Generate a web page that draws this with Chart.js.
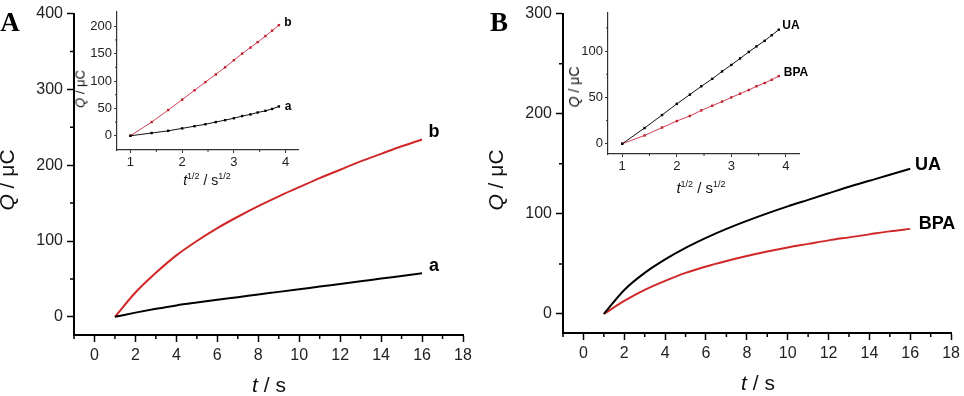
<!DOCTYPE html>
<html>
<head>
<meta charset="utf-8">
<script src="https://cdn.jsdelivr.net/npm/chart.js@4.4.1/dist/chart.umd.min.js"></script>
<style>
  body { margin: 0; background: #fff; width: 964px; height: 396px; position: relative; overflow: hidden;
         font-family: 'Liberation Sans', Arial, sans-serif; }
  canvas { position: absolute; }
  .lbl { position: absolute; white-space: nowrap; color: #000; line-height: 1; transform: translate(-50%, -50%); }
  .rot { transform: translate(-50%, -50%) rotate(-90deg); }
  .panel { font-family: 'Liberation Serif', 'Times New Roman', serif; font-weight: bold; font-size: 27px; }
  .main-title { font-size: 21px; color: #111; }
  .ins-title { font-size: 14px; color: #111; }
  .ins-title sup { font-size: 9px; vertical-align: 6px; }
  .curve { font-weight: bold; font-size: 18px; }
  .curve-s { font-weight: bold; font-size: 12px; }
</style>
</head>
<body>
<canvas id="mainA" width="480" height="396" style="left:0;top:0"></canvas>
<canvas id="mainB" width="484" height="396" style="left:480px;top:0"></canvas>
<canvas id="insetA" width="230" height="200" style="left:80px;top:0"></canvas>
<canvas id="insetB" width="240" height="200" style="left:570px;top:0"></canvas>

<!-- panel letters -->
<div class="lbl panel" style="left:10px;top:22px">A</div>
<div class="lbl panel" style="left:499px;top:22px">B</div>

<!-- main axis titles -->
<div class="lbl main-title rot" style="left:6px;top:180px"><i>Q</i> / μC</div>
<div class="lbl main-title" style="left:269px;top:384px"><i>t</i> / s</div>
<div class="lbl main-title rot" style="left:495px;top:180px"><i>Q</i> / μC</div>
<div class="lbl main-title" style="left:758px;top:382px"><i>t</i> / s</div>

<!-- inset axis titles -->
<div class="lbl ins-title rot" style="left:80px;top:89px;font-size:13px"><i>Q</i> / μC</div>
<div class="lbl ins-title" style="left:207px;top:179px"><i>t</i><sup>1/2</sup> / s<sup>1/2</sup></div>
<div class="lbl ins-title rot" style="left:574px;top:87px"><i>Q</i> / μC</div>
<div class="lbl ins-title" style="left:701px;top:187px;font-size:15px"><i>t</i><sup>1/2</sup> / s<sup>1/2</sup></div>

<!-- curve labels -->
<div class="lbl curve" style="left:434px;top:131px">b</div>
<div class="lbl curve" style="left:434px;top:265px">a</div>
<div class="lbl curve" style="left:928px;top:164px">UA</div>
<div class="lbl curve" style="left:937px;top:223px">BPA</div>
<div class="lbl curve-s" style="left:288px;top:22px">b</div>
<div class="lbl curve-s" style="left:288px;top:106px">a</div>
<div class="lbl curve-s" style="left:791px;top:25px">UA</div>
<div class="lbl curve-s" style="left:796px;top:72px">BPA</div>

<script>
// main panels: Q vs t
const mainT = [1, 2, 3, 4, 5, 6, 7, 8, 9, 10, 11, 12, 13, 14, 15, 16];
const qA_a = [0, 5.5, 10.5, 15, 18.8, 22.4, 25.9, 29.4, 32.9, 36.4, 39.9, 43.4, 46.9, 50.4, 53.9, 57.4];
const qA_b = [0, 32, 58, 81, 100, 117, 132, 146, 159, 171, 183, 194, 205, 215, 225, 234];
const qB_UA = [0, 24, 41, 54.5, 66, 76, 85, 93, 100.5, 107.5, 114, 120.5, 127, 133, 139, 145];
const qB_BPA = [0, 13, 24, 33, 41, 47.5, 53, 58, 62.5, 66.5, 70, 73.5, 76.5, 79.5, 82.5, 85];

// insets: Q vs t^1/2
const sqrtT = [1, 1.41, 1.73, 2, 2.24, 2.45, 2.65, 2.83, 3, 3.16, 3.32, 3.46, 3.61, 3.74, 3.87];
const insA_a = [0, 5, 9, 13.5, 17.5, 21, 25, 28.5, 32, 36, 39, 42.5, 45.5, 49, 53.5];
const insA_b = [0, 25, 47, 66, 83, 98, 112, 125, 138, 150, 161, 171, 182, 192, 202];
const insB_UA = [0, 17, 31, 43, 53, 62, 70, 78, 85, 92, 99, 105, 111, 117, 123];
const insB_BPA = [0, 9, 17.5, 24.5, 30, 36, 41, 45.5, 50, 54, 58, 62, 65.5, 69, 73];

// tick labels
const mainXTicks = [0, 2, 4, 6, 8, 10, 12, 14, 16, 18];
const mainXMinor = [-1, 1, 3, 5, 7, 9, 11, 13, 15, 17];
const mainAYTicks = [0, 100, 200, 300, 400];
const mainAYMinor = [50, 150, 250, 350];
const mainBYTicks = [0, 100, 200, 300];
const mainBYMinor = [50, 150, 250];
const insXTicks = [1, 2, 3, 4];
const insXMinor = [1.5, 2.5, 3.5];
const insAYTicks = [0, 50, 100, 150, 200];
const insAYMinor = [25, 75, 125, 175];
const insBYTicks = [0, 50, 100];
const insBYMinor = [25, 75, 125];

const RED = '#d02828';
const INS_RED = '#cf4055';

Chart.defaults.font.family = "'Liberation Sans', Arial, sans-serif";
Chart.defaults.color = '#222';

function pts(xs, ys) {
    return xs.map((x, i) => ({ x: x, y: ys[i] }));
}

// short ticks between the labelled ones
const minorTicks = {
    id: 'minorTicks',
    afterDraw(chart, args, opts) {
        const ctx = chart.ctx;
        const area = chart.chartArea;
        ctx.save();
        ctx.strokeStyle = opts.color;
        ctx.lineWidth = opts.width;
        ctx.beginPath();
        (opts.x || []).forEach(v => {
            const px = chart.scales.x.getPixelForValue(v);
            ctx.moveTo(px, area.bottom);
            ctx.lineTo(px, area.bottom + opts.len);
        });
        (opts.y || []).forEach(v => {
            const py = chart.scales.y.getPixelForValue(v);
            ctx.moveTo(area.left, py);
            ctx.lineTo(area.left - opts.len, py);
        });
        ctx.stroke();
        ctx.restore();
    }
};

function axis(o, which) {
    const a = o[which];
    return {
        type: 'linear',
        min: a.min,
        max: a.max,
        afterBuildTicks: s => { s.ticks = a.ticks.map(v => ({ value: v })); },
        afterFit: s => {
            if (which === 'x') s.height = a.size; else s.width = a.size;
        },
        grid: { drawOnChartArea: false, tickLength: o.tickLen, tickWidth: o.tickW, tickColor: o.axisColor },
        border: { color: o.axisColor, width: o.axisW },
        ticks: { font: { size: o.fs }, padding: o.tickPad, autoSkip: false, maxRotation: 0, color: '#222' }
    };
}

function build(id, o) {
    return new Chart(document.getElementById(id), {
        type: 'line',
        data: { datasets: o.datasets },
        options: {
            responsive: false,
            animation: false,
            devicePixelRatio: 1,
            layout: { padding: o.pad },
            plugins: {
                legend: { display: false },
                tooltip: { enabled: false },
                minorTicks: { x: o.x.minor, y: o.y.minor, len: o.minorLen, width: o.tickW, color: o.axisColor }
            },
            scales: { x: axis(o, 'x'), y: axis(o, 'y') }
        },
        plugins: [minorTicks]
    });
}

function mainSet(xs, ys, color) {
    return { data: pts(xs, ys), borderColor: color, borderWidth: 2, pointRadius: 0,
             cubicInterpolationMode: 'monotone', fill: false };
}
function insetSet(xs, ys, lineColor, dotColor) {
    return { data: pts(xs, ys), borderColor: lineColor, borderWidth: 1, tension: 0,
             pointRadius: 1.7, pointStyle: 'rect', pointBackgroundColor: dotColor,
             pointBorderWidth: 0, fill: false };
}

const mainStyle = { axisColor: '#000', axisW: 2, tickW: 1.5, tickLen: 7, minorLen: 4, fs: 16, tickPad: 4 };
const insStyle = { axisColor: '#333', axisW: 1.2, tickW: 1, tickLen: 3, minorLen: 2, fs: 13, tickPad: 2 };

build('mainA', Object.assign({}, mainStyle, {
    pad: { left: 0, right: 17, top: 11, bottom: 0 },
    x: { min: -1, max: 18, ticks: mainXTicks, minor: mainXMinor, size: 61 },
    y: { min: -24, max: 400, ticks: mainAYTicks, minor: mainAYMinor, size: 74 },
    datasets: [mainSet(mainT, qA_a, '#000'), mainSet(mainT, qA_b, RED)]
}));

build('mainB', Object.assign({}, mainStyle, {
    pad: { left: 0, right: 12, top: 12, bottom: 0 },
    x: { min: -1, max: 18, ticks: mainXTicks, minor: mainXMinor, size: 63 },
    y: { min: -19, max: 300, ticks: mainBYTicks, minor: mainBYMinor, size: 83 },
    datasets: [mainSet(mainT, qB_UA, '#000'), mainSet(mainT, qB_BPA, RED)]
}));

build('insetA', Object.assign({}, insStyle, {
    pad: { left: 0, right: 12, top: 12, bottom: 0 },
    x: { min: 0.74, max: 4.24, ticks: insXTicks, minor: insXMinor, size: 50 },
    y: { min: -26, max: 226, ticks: insAYTicks, minor: insAYMinor, size: 37 },
    datasets: [insetSet(sqrtT, insA_a, '#111', '#000'), insetSet(sqrtT, insA_b, INS_RED, '#c02030')]
}));

build('insetB', Object.assign({}, insStyle, {
    pad: { left: 0, right: 11, top: 13, bottom: 0 },
    x: { min: 0.74, max: 4.24, ticks: insXTicks, minor: insXMinor, size: 46 },
    y: { min: -11, max: 141, ticks: insBYTicks, minor: insBYMinor, size: 38 },
    datasets: [insetSet(sqrtT, insB_UA, '#111', '#000'), insetSet(sqrtT, insB_BPA, INS_RED, '#c02030')]
}));
</script>
</body>
</html>
